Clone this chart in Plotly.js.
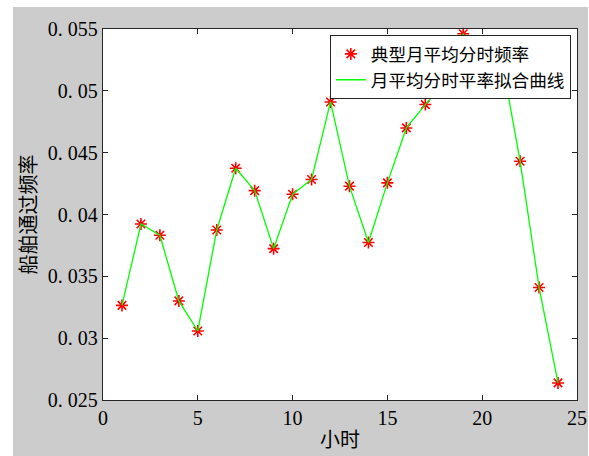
<!DOCTYPE html>
<html>
<head>
<meta charset="utf-8">
<script src="https://cdn.plot.ly/plotly-3.0.1.min.js"></script>
<style>
  html, body { margin: 0; padding: 0; background: #ffffff; width: 589px; height: 456px; overflow: hidden; }
  #chart { position: absolute; left: 13px; top: 7px; width: 575px; height: 449px; }
</style>
</head>
<body>
<div id="chart"></div>
<script>
const hours = [1,2,3,4,5,6,7,8,9,10,11,12,13,14,15,16,17,18,19,20,21,22,23,24];
const freq = [0.03265,0.03923,0.03832,0.03301,0.03058,0.03875,0.04374,0.04193,0.03724,0.04164,0.04283,0.04910,
              0.04229,0.03774,0.04256,0.04700,0.04889,0.05064,0.05462,0.05033,0.05280,0.04431,0.03410,0.02638];
const seriesNames = ["典型月平均分时频率", "月平均分时平率拟合曲线"];
const yTickVals = [0.025,0.03,0.035,0.04,0.045,0.05,0.055];
const yTickText = ["0. 025","0. 03","0. 035","0. 04","0. 045","0. 05","0. 055"];
const xTickVals = [0,5,10,15,20,25];
const xTickText = ["0","5","10","15","20","25"];
const xTitle = "小时";
const yTitle = "船舶通过频率";

const numFont = {family: "'Liberation Serif', 'DejaVu Serif', serif", size: 20, color: "#000000"};
const cjkFont = {family: "'Noto Sans CJK SC', sans-serif", size: 20, color: "#000000"};
const legFont = {family: "'Noto Sans CJK SC', sans-serif", size: 17.6, color: "#000000"};

const traces = [
  {
    x: hours, y: freq, mode: "markers", type: "scatter", name: seriesNames[0],
    marker: {symbol: "asterisk-open", size: 10, color: "#ff0000", line: {color: "#ff0000", width: 1.6}},
    cliponaxis: false
  },
  {
    x: hours, y: freq, mode: "lines", type: "scatter", name: seriesNames[1],
    line: {color: "#00ff00", width: 1.3}
  }
];

const axisCommon = {
  showline: true, linecolor: "#262626", linewidth: 1.2, mirror: "ticks",
  ticks: "inside", ticklen: 5, tickcolor: "#262626", tickwidth: 1,
  showgrid: false, zeroline: false, tickfont: numFont
};

const layout = {
  width: 575, height: 449,
  margin: {l: 90, r: 11, t: 22, b: 56},
  paper_bgcolor: "#cccccc",
  plot_bgcolor: "#ffffff",
  showlegend: true,
  legend: {
    x: 0.987, y: 0.984, xanchor: "right", yanchor: "top",
    bgcolor: "#ffffff", bordercolor: "#262626", borderwidth: 1,
    font: legFont,
    tracegroupgap: 0
  },
  xaxis: Object.assign({}, axisCommon, {
    range: [0, 25], tickvals: xTickVals, ticktext: xTickText,
    title: {text: xTitle, font: cjkFont, standoff: 4}
  }),
  yaxis: Object.assign({}, axisCommon, {
    range: [0.025, 0.055], tickvals: yTickVals, ticktext: yTickText,
    title: {text: yTitle, font: cjkFont, standoff: 8}
  })
};

Plotly.newPlot("chart", traces, layout, {displayModeBar: false, staticPlot: true});
</script>
</body>
</html>
